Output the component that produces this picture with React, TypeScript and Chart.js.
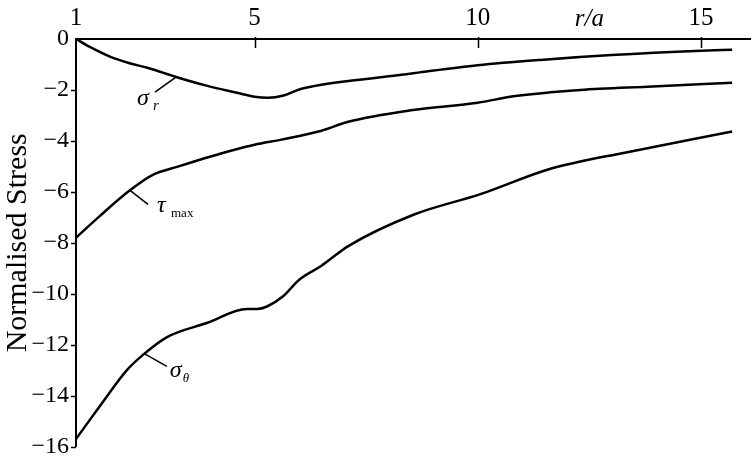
import React, { useEffect, useRef } from "react";
import { Chart, registerables } from "chart.js";

Chart.register(...registerables);

// r/a positions and normalised stress values
const sigmaR_x = [1, 1.3, 1.76, 2.2, 2.6, 3.26, 3.9, 4.7, 5.0, 5.3, 5.65, 6.0, 6.3, 7.1, 8.4, 8.7, 10.0, 11.4, 13.0, 15.0, 15.7];
const sigmaR_y = [0, -0.3, -0.69, -0.95, -1.13, -1.5, -1.82, -2.15, -2.27, -2.31, -2.22, -1.98, -1.86, -1.65, -1.38, -1.31, -1.03, -0.82, -0.63, -0.46, -0.42];

const tauMax_x = [1, 1.5, 2.2, 2.7, 3.3, 4.0, 5.0, 5.6, 6.5, 7.1, 8.5, 10.0, 10.8, 12.3, 13.8, 15.7];
const tauMax_y = [-7.8, -7.0, -5.95, -5.35, -5.0, -4.62, -4.15, -3.95, -3.6, -3.25, -2.8, -2.5, -2.25, -2.0, -1.87, -1.72];

const sigmaT_x = [1, 1.54, 2.14, 2.5, 3.04, 3.93, 4.83, 5.06, 5.28, 5.64, 6.0, 6.5, 7.1, 8.56, 10.06, 11.56, 12.7, 13.04, 15.7];
const sigmaT_y = [-15.7, -14.4, -13.0, -12.4, -11.7, -11.15, -10.6, -10.6, -10.5, -10.1, -9.45, -8.9, -8.13, -6.9, -6.09, -5.13, -4.66, -4.55, -3.63];

const xTicks = [1, 5, 10, 15];
const yTicks = [0, -2, -4, -6, -8, -10, -12, -14, -16];

const xTitle = "r/a";
const yTitle = "Normalised Stress";

// curve labels: anchor on curve in data units
const labelNames = ["σ", "τ", "σ"];
const labelSubs = ["r", "max", "θ"];
const labelAnchorX = [3.24, 2.21, 2.52];
const labelAnchorY = [-1.5, -5.94, -12.34];

const FONT = "'Liberation Serif', 'Times New Roman', serif";

const toPts = (xs: number[], ys: number[]) => xs.map((x, i) => ({ x, y: ys[i] }));

export default function App() {
  const ref = useRef<HTMLCanvasElement | null>(null);

  useEffect(() => {
    const canvas = ref.current;
    if (!canvas) return;

    // label styling: leader end, text offsets (px), relative to the anchor
    const styles = [
      { lx: -21, ly: 15, tx: -39, ty: 28, sx: -23, sy: 33, subFont: `italic 15px ${FONT}` },
      { lx: 18, ly: 14, tx: 27, ty: 22, sx: 41, sy: 27, subFont: `13px ${FONT}` },
      { lx: 23, ly: 13, tx: 26, ty: 24, sx: 39, sy: 29, subFont: `italic 13px ${FONT}` },
    ];

    const overlay = {
      id: "overlay",
      afterDraw(chart: any) {
        const ctx = chart.ctx;
        const xs = chart.scales.x;
        const ys = chart.scales.y;
        const area = chart.chartArea;
        ctx.save();
        ctx.strokeStyle = "#000";
        ctx.fillStyle = "#000";
        // x tick marks (inside, crossing axis)
        ctx.lineWidth = 1.5;
        xTicks.forEach((v) => {
          if (v === 1) return;
          const px = Math.round(xs.getPixelForValue(v)) + 0.5;
          ctx.beginPath();
          ctx.moveTo(px, area.top - 2);
          ctx.lineTo(px, area.top + 9);
          ctx.stroke();
        });
        // y tick marks (outside)
        yTicks.forEach((v) => {
          if (v === 0) return;
          const py = Math.round(ys.getPixelForValue(v)) + 0.5;
          ctx.beginPath();
          ctx.moveTo(area.left - 5, py);
          ctx.lineTo(area.left, py);
          ctx.stroke();
        });
        // x title
        ctx.font = `italic 25px ${FONT}`;
        ctx.textAlign = "center";
        ctx.textBaseline = "alphabetic";
        ctx.fillText(xTitle, xs.getPixelForValue(12.5), area.top - 13);
        // curve labels
        ctx.textAlign = "left";
        labelNames.forEach((name, i) => {
          const s = styles[i];
          const ax = xs.getPixelForValue(labelAnchorX[i]);
          const ay = ys.getPixelForValue(labelAnchorY[i]);
          ctx.lineWidth = 1.6;
          ctx.beginPath();
          ctx.moveTo(ax, ay);
          ctx.lineTo(ax + s.lx, ay + s.ly);
          ctx.stroke();
          ctx.font = `italic 24px ${FONT}`;
          ctx.fillText(name, ax + s.tx, ay + s.ty);
          ctx.font = s.subFont;
          ctx.fillText(labelSubs[i], ax + s.sx, ay + s.sy);
        });
        ctx.restore();
      },
    };

    const line = (xs: number[], ys: number[]) => ({
      data: toPts(xs, ys),
      borderColor: "#000",
      borderWidth: 2.5,
      pointRadius: 0,
      fill: false,
      cubicInterpolationMode: "monotone" as const,
      clip: false as any,
    });

    const chart = new Chart(canvas, {
      type: "line",
      data: {
        datasets: [line(sigmaR_x, sigmaR_y), line(tauMax_x, tauMax_y), line(sigmaT_x, sigmaT_y)],
      },
      options: {
        animation: false,
        responsive: false,
        layout: { padding: { left: 0, top: 0, right: 4, bottom: 14 } },
        plugins: { legend: { display: false }, tooltip: { enabled: false } },
        scales: {
          x: {
            type: "linear",
            position: "top",
            min: 1,
            max: 16.1,
            grid: { display: false, drawTicks: false },
            border: { display: true, color: "#000", width: 2 },
            afterBuildTicks: (scale: any) => {
              scale.ticks = xTicks.map((v) => ({ value: v }));
            },
            afterFit: (scale: any) => {
              scale.height = 39;
            },
            ticks: {
              color: "#000",
              padding: 6,
              maxRotation: 0,
              autoSkip: false,
              font: { family: FONT, size: 25 },
              callback: (v: any) => String(v),
            },
          },
          y: {
            type: "linear",
            min: -16,
            max: 0,
            grid: { display: false, drawTicks: false },
            border: { display: true, color: "#000", width: 2 },
            afterBuildTicks: (scale: any) => {
              scale.ticks = yTicks.map((v) => ({ value: v }));
            },
            afterFit: (scale: any) => {
              scale.width = 76;
            },
            title: {
              display: true,
              text: yTitle,
              color: "#000",
              font: { family: FONT, size: 30 },
              padding: 0,
            },
            ticks: {
              color: "#000",
              padding: 7,
              autoSkip: false,
              font: { family: FONT, size: 24 },
              callback: (v: any) => (Number(v) < 0 ? "\u2212" + Math.abs(Number(v)) : String(v)),
            },
          },
        },
      },
      plugins: [overlay],
    });

    return () => chart.destroy();
  }, []);

  return (
    <div style={{ position: "fixed", left: 0, top: 0, width: 754, height: 468, background: "#fff" }}>
      <canvas ref={ref} width={754} height={468} style={{ display: "block" }} />
    </div>
  );
}
